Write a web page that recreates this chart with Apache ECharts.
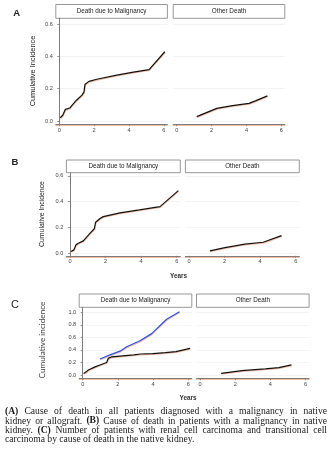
<!DOCTYPE html>
<html>
<head>
<meta charset="utf-8">
<script src="https://cdn.jsdelivr.net/npm/echarts@6/dist/echarts.min.js"></script>
<style>
  html, body { margin: 0; padding: 0; background: #fff; }
  #chart { width: 335px; height: 464px; }
</style>
</head>
<body>
<div id="chart"></div>
<script>
// Cumulative incidence curves by cause of death (time in years)

// A: all patients with a malignancy in native kidney or allograft
const aMalYears = [0.05, 0.2, 0.3, 0.35, 0.6, 0.75, 1.0, 1.3, 1.42, 1.47, 1.7, 2.15, 3.3, 4.25, 5.15, 6.05];
const aMalInc   = [0.02, 0.035, 0.045, 0.072, 0.08, 0.1, 0.13, 0.16, 0.18, 0.225, 0.245, 0.258, 0.283, 0.302, 0.318, 0.428];
const aOthYears = [1.15, 2.3, 3.2, 4.15, 4.55, 5.2];
const aOthInc   = [0.027, 0.078, 0.095, 0.109, 0.126, 0.155];

// B: malignancy in the native kidney
const bMalYears = [0.06, 0.22, 0.34, 0.47, 0.75, 0.97, 1.16, 1.37, 1.44, 1.5, 1.69, 1.87, 2.81, 3.9, 5.06, 6.09];
const bMalInc   = [0.013, 0.026, 0.065, 0.078, 0.096, 0.13, 0.16, 0.19, 0.24, 0.253, 0.27, 0.284, 0.313, 0.336, 0.362, 0.486];
const bOthYears = [1.18, 2.02, 3.14, 4.17, 5.2];
const bOthInc   = [0.018, 0.044, 0.07, 0.085, 0.137];

// C: renal cell carcinoma (black) and transitional cell carcinoma (blue)
const cRccYears = [0.05, 0.2, 0.32, 0.7, 0.98, 1.36, 1.45, 1.65, 2.9, 3.3, 4.0, 4.7, 5.3, 6.1];
const cRccInc   = [0.025, 0.05, 0.08, 0.13, 0.16, 0.2, 0.265, 0.29, 0.32, 0.335, 0.342, 0.356, 0.372, 0.425];
const cTccYears = [0.98, 1.55, 2.12, 2.5, 3.26, 3.92, 4.77, 5.5];
const cTccInc   = [0.255, 0.32, 0.38, 0.45, 0.545, 0.66, 0.89, 1.01];
const cOthYears = [1.2, 2.38, 3.71, 4.48, 5.2];
const cOthInc   = [0.027, 0.069, 0.096, 0.117, 0.16];

// Axis ticks and text
const xTicks = [0, 2, 4, 6];
const yTicksAB = [0, 0.2, 0.4, 0.6];
const yTicksC = [0, 0.2, 0.4, 0.6, 0.8, 1.0];
const stripLabels = ['Death due to Malignancy', 'Other Death'];
const panelLetters = ['A', 'B', 'C'];
const yTitles = ['Cumulative Incidence', 'Cumulative Incidence', 'Cumulative incidence'];
const xTitle = 'Years';
const captionLines = [
  [['(A)', true], [' Cause of death in all patients diagnosed with a malignancy in native', false]],
  [['kidney or allograft. ', false], ['(B)', true], [' Cause of death in patients with a malignancy in native', false]],
  [['kidney. ', false], ['(C)', true], [' Number of patients with renal cell carcinoma and transitional cell', false]],
  [['carcinoma by cause of death in the native kidney.', false]]
];

const zip = (xs, ys) => xs.map((x, i) => [x, ys[i]]);

// Panel geometry (pixels)
const panels = [
  { lefts: [55.8, 173.2], width: 111.6, top: 18.3, height: 105.9, yMin: -0.02, yMax: 0.635, stripTop: 4.5,
    yTicks: yTicksAB, letter: [16.7, 13.5, 9.5, 'bold'], yTitle: [32.7, 71, 7.4, 'Liberation Sans'], xTitle: null,
    lines: [[zip(aMalYears, aMalInc)], [zip(aOthYears, aOthInc)]], colors: [['#111'], ['#111']] },
  { lefts: [66.4, 185.4], width: 113.9, top: 172.7, height: 83.1, yMin: -0.02, yMax: 0.625, stripTop: 160,
    yTicks: yTicksAB, letter: [15, 162, 9.5, 'bold'], yTitle: [41.7, 214, 6.9, 'Liberation Sans'], xTitle: [178.5, 276],
    lines: [[zip(bMalYears, bMalInc)], [zip(bOthYears, bOthInc)]], colors: [['#111'], ['#111']] },
  { lefts: [79.2, 196.5], width: 112.6, top: 307.3, height: 71, yMin: -0.053, yMax: 1.08, stripTop: 294,
    yTicks: yTicksC, letter: [15, 305, 11, 'normal'], yTitle: [42.7, 340, 8.2, 'Lato'], xTitle: [188, 398.5],
    lines: [[zip(cTccYears, cTccInc), zip(cRccYears, cRccInc)], [zip(cOthYears, cOthInc)]],
    colors: [['#2f4fe0', '#111'], ['#111']] }
];

const sans = 'Liberation Sans';
const axisGray = '#7d7d7d';
const fringe = 'rgba(232,120,70,0.5)';

const grid = [], xAxis = [], yAxis = [], series = [], graphic = [];

panels.forEach((p, pi) => {
  p.lefts.forEach((left, ci) => {
    const gi = grid.length;
    grid.push({ left: left, top: p.top, width: p.width, height: p.height });
    xAxis.push({
      type: 'value', gridIndex: gi, min: -0.2, max: 6.2,
      axisLine: { show: true, onZero: false, lineStyle: { color: axisGray, width: 1, shadowColor: fringe, shadowOffsetY: 1 } },
      axisTick: { show: true, length: 2, customValues: xTicks, lineStyle: { color: axisGray, width: 0.8 } },
      axisLabel: { customValues: xTicks, fontSize: 5.6, color: '#444', margin: 3, fontFamily: sans },
      splitLine: { show: false }
    });
    yAxis.push({
      type: 'value', gridIndex: gi, min: p.yMin, max: p.yMax,
      axisLine: { show: ci === 0, lineStyle: { color: axisGray, width: 1 } },
      axisTick: { show: ci === 0, length: 2, customValues: p.yTicks, lineStyle: { color: axisGray, width: 0.8 } },
      axisLabel: { show: ci === 0, customValues: p.yTicks, fontSize: 5.6, color: '#444', margin: 3, fontFamily: sans,
                   formatter: v => v.toFixed(1) },
      splitLine: { show: true, lineStyle: { color: '#f1f1f1', width: 0.8 } }
    });
    p.lines[ci].forEach((data, li) => {
      series.push({
        type: 'line', xAxisIndex: gi, yAxisIndex: gi, data: data,
        showSymbol: false, symbol: 'none', silent: true, animation: false,
        lineStyle: { color: p.colors[ci][li], width: 1.2, shadowColor: fringe, shadowOffsetY: 0.8, shadowOffsetX: 0.4 }
      });
    });
    // facet strip
    graphic.push({
      type: 'rect', silent: true,
      shape: { x: left, y: p.stripTop, width: p.width, height: p.top - p.stripTop },
      style: { fill: '#fff', stroke: '#8c8c8c', lineWidth: 0.9 }
    });
    graphic.push({
      type: 'text', silent: true, x: left + p.width / 2, y: (p.stripTop + p.top) / 2,
      style: { text: stripLabels[ci], fontSize: 6.3, fontFamily: sans, fill: '#222', align: 'center', verticalAlign: 'middle' }
    });
  });
  graphic.push({
    type: 'text', silent: true, x: p.letter[0], y: p.letter[1],
    style: { text: panelLetters[pi], fontSize: p.letter[2], fontWeight: p.letter[3], fontFamily: sans, fill: '#222',
             align: 'center', verticalAlign: 'middle' }
  });
  graphic.push({
    type: 'text', silent: true, x: p.yTitle[0], y: p.yTitle[1], rotation: Math.PI / 2,
    style: { text: yTitles[pi], fontSize: p.yTitle[2], fontFamily: p.yTitle[3], fill: pi === 2 ? '#444' : '#222',
             align: 'center', verticalAlign: 'middle' }
  });
  if (p.xTitle) {
    graphic.push({
      type: 'text', silent: true, x: p.xTitle[0], y: p.xTitle[1],
      style: { text: xTitle, fontSize: 6.4, fontWeight: 'bold', fontFamily: sans, fill: '#333', align: 'center', verticalAlign: 'middle' }
    });
  }
});

// Caption: justified serif paragraph built word by word
(function () {
  const ctx = document.createElement('canvas').getContext('2d');
  const family = 'Liberation Serif';
  const left = 5, right = 327, top = 411.7, lineGap = 9.3;
  let size = 9.6;
  const fontOf = (b, s) => (b ? 'bold ' : '') + s + 'px "' + family + '"';
  const wordsOf = segs => {
    const out = [];
    segs.forEach(([t, b]) => t.split(' ').filter(w => w.length).forEach(w => out.push([w, b])));
    return out;
  };
  const natural = (words, s) => {
    let w = 0;
    words.forEach(([t, b]) => { ctx.font = fontOf(b, s); w += ctx.measureText(t).width; });
    ctx.font = fontOf(false, s);
    return w + ctx.measureText(' ').width * 0.7 * (words.length - 1);
  };
  const lines = captionLines.map(wordsOf);
  const widest = Math.max(...lines.slice(0, 3).map(l => natural(l, size)));
  if (widest > right - left) size = size * (right - left) / widest;
  lines.forEach((words, li) => {
    const widths = words.map(([t, b]) => { ctx.font = fontOf(b, size); return ctx.measureText(t).width; });
    const sum = widths.reduce((a, b) => a + b, 0);
    ctx.font = fontOf(false, size);
    const space = ctx.measureText(' ').width;
    const gap = li < lines.length - 1 ? (right - left - sum) / (words.length - 1) : space;
    let x = left;
    words.forEach(([t, b], wi) => {
      graphic.push({
        type: 'text', silent: true, x: x, y: top + li * lineGap,
        style: { text: t, fontSize: size, fontFamily: family, fontWeight: b ? 'bold' : 'normal',
                 fill: '#1a1a1a', align: 'left', verticalAlign: 'middle' }
      });
      x += widths[wi] + gap;
    });
  });
})();

const chart = echarts.init(document.getElementById('chart'), null, { renderer: 'canvas' });
chart.setOption({ animation: false, grid, xAxis, yAxis, series, graphic });
</script>
</body>
</html>
